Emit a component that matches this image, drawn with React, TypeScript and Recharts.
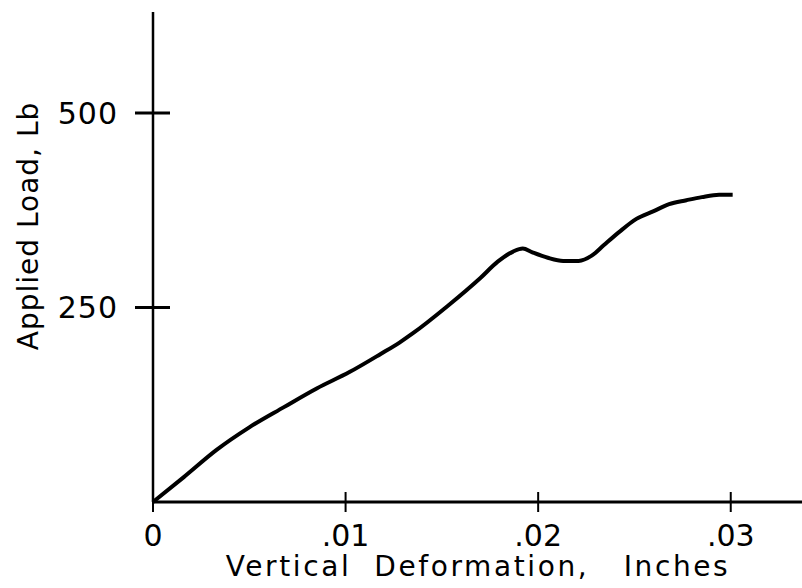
import { LineChart, Line, XAxis, YAxis, Label } from "recharts";

// deformation (inches) vs applied load (lb)
const deformation = [
  0, 0.0016, 0.0033, 0.005, 0.0068, 0.0085, 0.0102, 0.0118, 0.0128,
  0.0135, 0.0153, 0.017, 0.0179, 0.0187, 0.0192, 0.0197, 0.0205, 0.0213,
  0.0221, 0.0228, 0.0234, 0.0242, 0.0251, 0.026, 0.0268, 0.0277, 0.0285,
  0.0294, 0.0301,
];
const load = [
  0, 32, 67, 96, 122, 146, 167, 190, 205, 217, 252, 288, 309, 322, 326,
  321, 314, 310, 310, 317, 330, 347, 364, 374, 383, 388, 392, 395, 395,
];
const xTicks = [0, 0.01, 0.02, 0.03];
const xTickLabels = ["0", ".01", ".02", ".03"];
const yTicks = [250, 500];

const data = deformation.map((x, i) => ({ x, load: load[i] }));

const FONT = "DejaVu Sans";

function XTick(props: any) {
  const { x, y, payload } = props;
  const i = xTicks.indexOf(payload.value);
  return (
    <g>
      <line x1={x} x2={x} y1={y - 10} y2={y + 10} stroke="#000" strokeWidth={2} />
      <text
        x={x}
        y={y + 44}
        textAnchor="middle"
        fontSize={30}
        fontFamily={FONT}
        fill="#000"
      >
        {xTickLabels[i]}
      </text>
    </g>
  );
}

function YTick(props: any) {
  const { x, y, payload } = props;
  return (
    <g>
      <line x1={x - 18} x2={x + 17} y1={y} y2={y} stroke="#000" strokeWidth={3} />
      <text
        x={x - 35}
        y={y}
        textAnchor="end"
        dominantBaseline="central"
        fontSize={30}
        fontFamily={FONT}
        fill="#000"
        style={{ letterSpacing: 1 }}
      >
        {payload.value}
      </text>
    </g>
  );
}

export default function App() {
  return (
    <div style={{ position: "absolute", left: 0, top: 0, background: "#fff" }}>
      <LineChart
        width={802}
        height={588}
        data={data}
        margin={{ top: 12, right: 0, bottom: 0, left: 0 }}
      >
        <XAxis
          type="number"
          dataKey="x"
          domain={[0, 0.0337]}
          ticks={xTicks}
          tickLine={false}
          tickSize={0}
          tickMargin={0}
          height={86}
          axisLine={{ stroke: "#000", strokeWidth: 3 }}
          tick={<XTick />}
          interval={0}
        >
          <Label
            content={() => (
              <text
                x={478}
                y={576}
                textAnchor="middle"
                fontSize={28}
                fontFamily={FONT}
                fill="#000"
                style={{ whiteSpace: "pre", letterSpacing: 2.6 }}
              >
                {"Vertical  Deformation,   Inches"}
              </text>
            )}
          />
        </XAxis>
        <YAxis
          type="number"
          domain={[0, 630]}
          ticks={yTicks}
          width={153}
          tickLine={false}
          tickSize={0}
          tickMargin={0}
          axisLine={{ stroke: "#000", strokeWidth: 2.5 }}
          tick={<YTick />}
          interval={0}
        >
          <Label
            content={() => (
              <text
                transform="translate(38,226) rotate(-90)"
                textAnchor="middle"
                fontSize={28}
                fontFamily={FONT}
                fill="#000"
                style={{ letterSpacing: 1 }}
              >
                Applied Load, Lb
              </text>
            )}
          />
        </YAxis>
        <Line
          type="monotone"
          dataKey="load"
          stroke="#000"
          strokeWidth={4}
          dot={false}
          isAnimationActive={false}
        />
      </LineChart>
    </div>
  );
}
